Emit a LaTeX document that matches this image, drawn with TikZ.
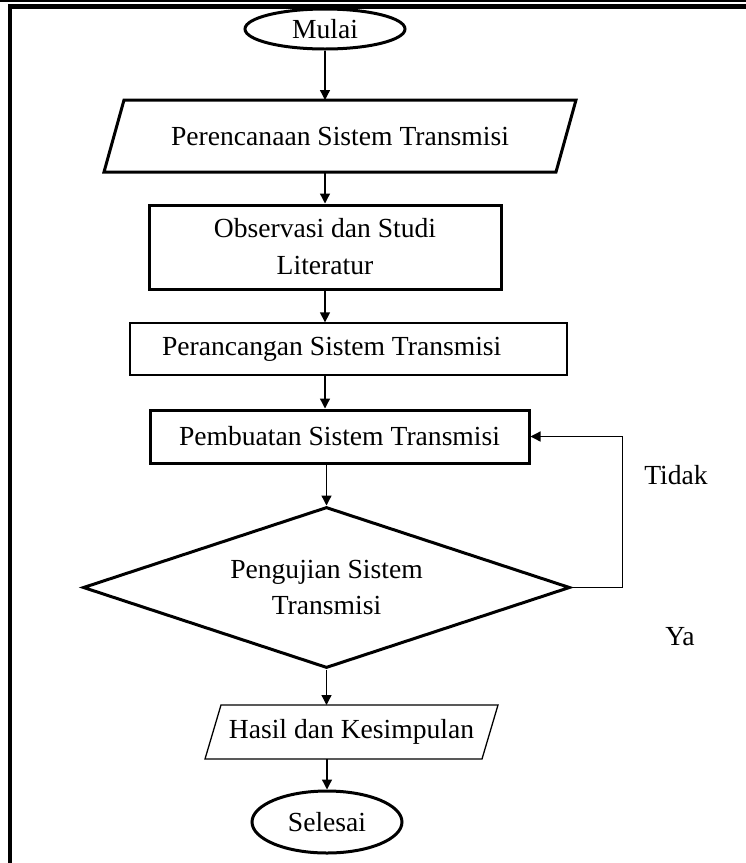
\documentclass[tikz,border=0pt]{standalone}
\usepackage{fontspec}
\setmainfont{Liberation Serif}
\usetikzlibrary{shapes.geometric,arrows.meta}
\begin{document}
\begin{tikzpicture}[x=1pt,y=-1pt,
        font=\fontsize{27.6}{37}\selectfont,
        terminal/.style={ellipse,draw,line width=3pt,inner sep=0pt},
        process/.style={rectangle,draw,line width=3pt,inner sep=0pt,align=center},
        thinbox/.style={rectangle,draw,line width=1.3pt,inner sep=0pt},
        slantbox/.style={rectangle,inner sep=0pt,outer sep=0pt},
        decision/.style={diamond,aspect=3,draw,line width=3pt,inner sep=0pt,align=center},
        flow/.style={line width=1.3pt,-{Triangle[length=10pt,width=10pt]}}]

        \useasboundingbox (0,0) rectangle (746,863);

        % frame of the page
        \draw[line width=1.5pt] (0,1) -- (746,1);
        \draw[line width=5pt] (8,6.5) -- (746,6.5);
        \draw[line width=3.5pt] (10,4) -- (10,863);

        \node[terminal,minimum width=160pt,minimum height=40pt] (start) at (325,29) {Mulai};

        \node[slantbox,minimum width=452pt,minimum height=72pt] (plan) at (340,136) {Perencanaan Sistem Transmisi};
        \draw[line width=3pt] ([xshift=-10pt]plan.south west) -- ([xshift=10pt]plan.north west)
            -- ([xshift=10pt]plan.north east) -- ([xshift=-10pt]plan.south east) -- cycle;

        \node[process,minimum width=352pt,minimum height=84pt] (study) at (325,247) {Observasi dan Studi\\Literatur};

        \node[thinbox,text width=373pt,align=flush left,inner xsep=32pt,minimum height=52pt] (design) at (348.5,349) {Perancangan Sistem Transmisi};

        \node[process,minimum width=379pt,minimum height=53pt] (build) at (339.5,436.5) {Pembuatan Sistem Transmisi};

        \node[decision,minimum width=487pt,minimum height=161pt,font=\fontsize{27.6}{36}\selectfont] (test) at (326.5,587.5) {Pengujian Sistem\\Transmisi};

        \node[slantbox,minimum width=277pt,minimum height=54pt] (result) at (351.5,732) {Hasil dan Kesimpulan};
        \draw[line width=1.3pt] ([xshift=-8pt]result.south west) -- ([xshift=8pt]result.north west)
            -- ([xshift=8pt]result.north east) -- ([xshift=-8pt]result.south east) -- cycle;

        \node[terminal,minimum width=150pt,minimum height=62pt] (finish) at (327,822) {Selesai};

        \node (no) at (676,475) {Tidak};
        \node (yes) at (680,637) {Ya};

        \draw[flow] (start.south) -- (start.south |- plan.north);
        \draw[flow] (study.north |- plan.south) -- (study.north);
        \draw[flow] (study.south) -- (study.south |- design.north);
        \draw[flow] (study.south |- design.south) -- (study.south |- build.north);
        \draw[flow] (test.north |- build.south) -- (test.north);
        \draw[flow] (test.south) -- (test.south |- result.north);
        \draw[flow] (finish.north |- result.south) -- (finish.north);
        \draw[flow] (test.east) -- ++(51,0) |- (build.east);
    \end{tikzpicture}
\end{document}
